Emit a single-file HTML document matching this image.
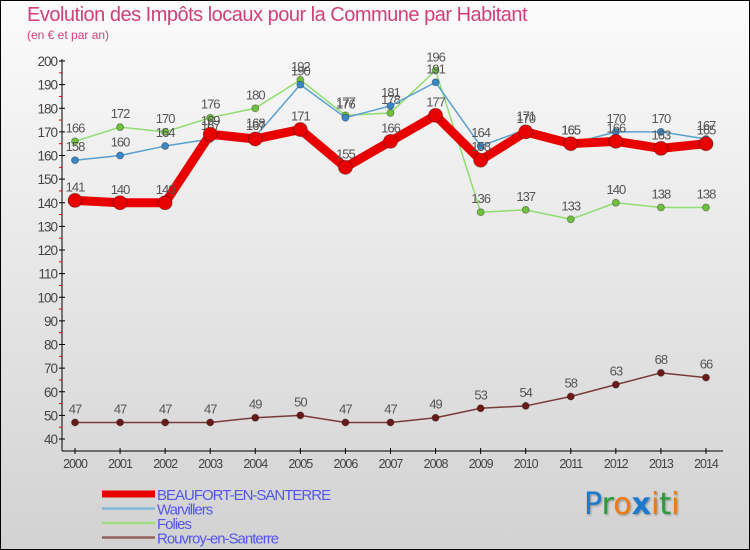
<!DOCTYPE html>
<html><head><meta charset="utf-8"><style>
body{margin:0}
#wrap{position:relative;width:748px;height:548px;border:1px solid #000;background:linear-gradient(#fbfbfb,#d2d2d2);font-family:"Liberation Sans",sans-serif;overflow:hidden}
.t{position:absolute;left:26px;top:3px;font-size:20px;color:#d0407a;letter-spacing:-0.5px}
.s{position:absolute;left:26px;top:27px;font-size:12px;color:#d0407a}
</style></head><body>
<div id="wrap">
<div class="t">Evolution des Impôts locaux pour la Commune par Habitant</div>
<div class="s">(en € et par an)</div>
<svg id="svg" width="748" height="548" style="position:absolute;left:0;top:0"></svg>
<div style="position:absolute;left:583px;top:486px;font-size:30px;font-family:'DejaVu Sans',sans-serif;text-shadow:1px 1px 2px #888"><span style="color:#1a7bd0">P</span><span style="color:#2a9a3a">r</span><span style="color:#f07a10">o</span><span style="color:#1a7bd0;font-weight:bold">x</span><span style="color:#f07a10">i</span><span style="color:#2a9a3a">t</span><span style="color:#f07a10">i</span></div>
</div>
<script>
const years=[2000,2001,2002,2003,2004,2005,2006,2007,2008,2009,2010,2011,2012,2013,2014];
const beaufort=[141,140,140,169,167,171,155,166,177,158,170,165,166,163,165];
const warvillers=[158,160,164,167,168,190,176,181,191,164,171,165,170,170,167];
const folies=[166,172,170,176,180,192,177,178,196,136,137,133,140,138,138];
const rouvroy=[47,47,47,47,49,50,47,47,49,53,54,58,63,68,66];
const yTicks=[40,50,60,70,80,90,100,110,120,130,140,150,160,170,180,190,200];
const NS="http://www.w3.org/2000/svg",svg=document.getElementById('svg');
const x=i=>74+i*45.07, y=v=>438-(v-40)*2.3625;
function el(t,a,p){const e=document.createElementNS(NS,t);for(const k in a)e.setAttribute(k,a[k]);(p||svg).appendChild(e);return e;}
let e=el('line',{x1:61,y1:58,x2:61,y2:450,stroke:'#000'});

e=el('line',{x1:61,y1:450,x2:722,y2:450,stroke:'#000'});

yTicks.forEach(v=>{
 el('line',{x1:58,x2:64,y1:y(v),y2:y(v),stroke:'#000'});
 if(v<200)el('line',{x1:58,x2:61,y1:y(v+5),y2:y(v+5),stroke:'#e00'});
 const t=el('text',{x:56,y:y(v)+5,'text-anchor':'end','font-size':13.5,fill:'#444','letter-spacing':'-1'});t.textContent=v;
 
});
years.forEach((yr,i)=>{
 el('line',{x1:x(i),x2:x(i),y1:447,y2:453,stroke:'#000'});
 const t=el('text',{x:x(i),y:467,'text-anchor':'middle','font-size':12.5,fill:'#444','letter-spacing':'-1'});t.textContent=yr;
 
});
function series(d,name,col,dot,w,r){
 const g=el('g',{});
 el('polyline',{points:d.map((v,i)=>x(i)+','+y(v)).join(' '),fill:'none',stroke:col,'stroke-width':w,'stroke-linejoin':'round'},g);
 d.forEach((v,i)=>{
  const c=el('circle',{cx:x(i),cy:y(v),r:r,fill:dot,stroke:'rgba(0,0,0,0.3)'},g);
  
  const t=el('text',{x:x(i),y:y(v)-9,'text-anchor':'middle','font-size':13,fill:'#555','letter-spacing':'-1'},g);t.textContent=v;
 });
}
series(rouvroy,'rouvroy-series','#7a3a3a','#6a1a1a',1.5,3.5);
series(folies,'folies-series','#90dd70','#70c040',1.5,3.5);
series(warvillers,'warvillers-series','#5aa0d0','#3a88c8',1.5,3.5);
series(beaufort,'beaufort-series','#e80000','#e80000',9,7);
const names=['BEAUFORT-EN-SANTERRE','Warvillers','Folies','Rouvroy-en-Santerre'];
const cols=['#e80000','#80b8dc','#a0dc80','#906060'];
names.forEach((n,i)=>{
 const yy=493+i*14.5;
 el('line',{x1:101,x2:154,y1:yy,y2:yy,stroke:cols[i],'stroke-width':i==0?7:2.5});
 const t=el('text',{x:156,y:yy+6,'font-size':15,fill:'#5555ee','letter-spacing':'-1'});t.textContent=n;
 
});
</script>
</body></html>
